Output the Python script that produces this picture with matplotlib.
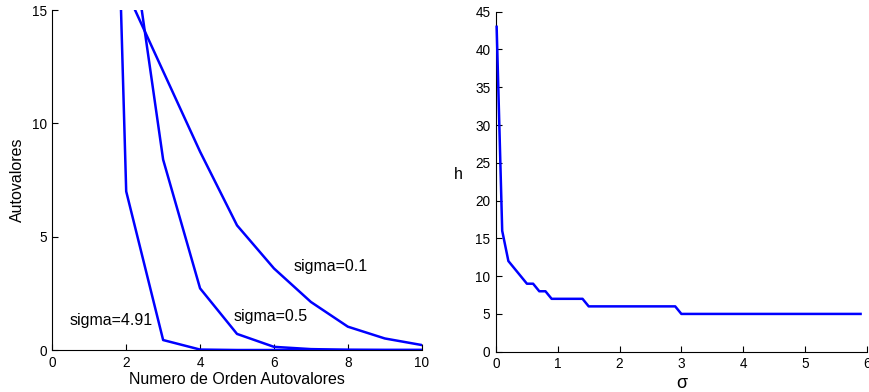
import matplotlib
matplotlib.use('Agg')
import matplotlib.pyplot as plt

plt.rcParams['font.family'] = ['Liberation Sans', 'DejaVu Sans']

# left panel: eigenvalues by order for three sigmas
orden = [1, 2, 3, 4, 5, 6, 7, 8, 9, 10]
sig_01 = [22.0, 15.85, 12.3, 8.75, 5.5, 3.6, 2.12, 1.03, 0.51, 0.22]
sig_05 = [40.0, 19.8, 8.4, 2.72, 0.71, 0.14, 0.04, 0.01, 0.0, 0.0]
sig_491 = [64.0, 7.0, 0.44, 0.02, 0.0, 0.0, 0.0, 0.0, 0.0, 0.0]

# right panel: h vs sigma
sigma = [0.01, 0.1, 0.2, 0.3, 0.4, 0.5, 0.6, 0.7, 0.8, 0.9, 1.4, 1.5, 2.9, 3.0, 5.9]
h = [43, 16, 12, 11, 10, 9, 9, 8, 8, 7, 7, 6, 6, 5, 5]

fig = plt.figure(figsize=(8.69, 3.92), dpi=100)

ax1 = fig.add_axes([0.0602, 0.1071, 0.4251, 0.8673])
ax2 = fig.add_axes([0.5708, 0.1028, 0.4266, 0.8673])

lw = 1.8
ax1.plot(orden, sig_01, color='#0000ff', lw=lw, zorder=3)
ax1.plot(orden, sig_05, color='#0000ff', lw=lw, zorder=3)
ax1.plot(orden, sig_491, color='#0000ff', lw=lw, zorder=3)
ax1.set_xlim(0, 10)
ax1.set_ylim(0, 15)
ax1.set_xticks([0, 2, 4, 6, 8, 10])
ax1.set_yticks([0, 5, 10, 15])
ax1.text(6.54, 3.67, 'sigma=0.1', fontsize=11.5, va='center')
ax1.text(4.9, 1.5, 'sigma=0.5', fontsize=11.5, va='center')
ax1.text(0.48, 1.29, 'sigma=4.91', fontsize=11.5, va='center')
ax1.set_xlabel('Numero de Orden Autovalores', fontsize=11.5, labelpad=2)
ax1.set_ylabel('Autovalores', fontsize=11.5, labelpad=5)

# h stays inside the limits, so no clipping needed (lets the line cover the spine)
ax2.plot(sigma, h, color='#0000ff', lw=lw, zorder=3, clip_on=False)
ax2.set_xlim(0, 6)
ax2.set_ylim(0, 45)
ax2.set_xticks(range(0, 7))
ax2.set_yticks(range(0, 50, 5))
ax2.set_xlabel('σ', fontsize=13, labelpad=3)
ax2.set_ylabel('h', fontsize=11.5, rotation=0, labelpad=12)

for ax in (ax1, ax2):
    ax.spines['top'].set_visible(False)
    ax.spines['right'].set_visible(False)
    ax.tick_params(direction='in', length=4, labelsize=9.8, pad=4, width=0.8)
    for sp in ('left', 'bottom'):
        ax.spines[sp].set_linewidth(0.8)

fig.savefig('out.png', dpi=100)
